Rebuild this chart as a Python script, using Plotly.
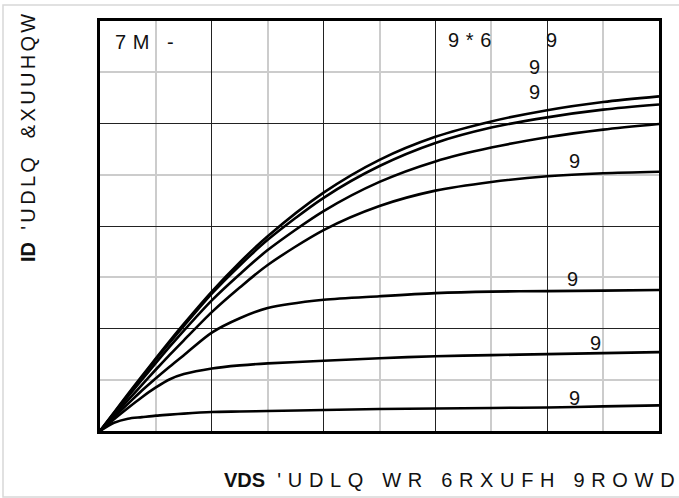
import plotly.graph_objects as go

# ---- data ----
vds = [0, 0.25, 0.5, 0.75, 1, 1.25, 1.5, 2, 2.5, 3, 4, 5, 6, 7, 8, 9, 10]
id_c1 = [0, 0.36, 0.72, 1.07, 1.42, 1.76, 2.09, 2.72, 3.29, 3.80, 4.65, 5.29, 5.74, 6.04, 6.26, 6.42, 6.53]
id_c2 = [0, 0.35, 0.70, 1.05, 1.40, 1.73, 2.05, 2.68, 3.23, 3.73, 4.55, 5.17, 5.62, 5.92, 6.12, 6.27, 6.37]
id_c3 = [0, 0.33, 0.67, 1.00, 1.33, 1.65, 1.96, 2.55, 3.06, 3.53, 4.29, 4.86, 5.26, 5.53, 5.73, 5.88, 5.99]
id_c4 = [0, 0.30, 0.60, 0.90, 1.20, 1.49, 1.77, 2.32, 2.80, 3.24, 3.92, 4.39, 4.69, 4.86, 4.97, 5.03, 5.06]
id_c5 = [0, 0.27, 0.53, 0.79, 1.03, 1.26, 1.48, 1.92, 2.20, 2.40, 2.56, 2.63, 2.69, 2.72, 2.73, 2.74, 2.75]
id_c6 = [0, 0.23, 0.45, 0.66, 0.85, 1.01, 1.11, 1.22, 1.28, 1.32, 1.37, 1.42, 1.46, 1.48, 1.50, 1.52, 1.54]
id_c7 = [0, 0.16, 0.24, 0.27, 0.30, 0.32, 0.34, 0.37, 0.38, 0.39, 0.41, 0.43, 0.44, 0.45, 0.46, 0.48, 0.50]
curves = [id_c1, id_c2, id_c3, id_c4, id_c5, id_c6, id_c7]

x_range = [0, 10]
y_range = [0, 8]

FONT = "Liberation Sans, Arial, sans-serif"
W, H = 679, 498
L, R, T, B = 100, 20, 21, 67
PW, PH = W - L - R, H - T - B


def px(x):
    return (x - L) / PW


def py(y):
    return (H - B - y) / PH


def spaced(text, sep, wsep):
    words = text.split(" ")
    return wsep.join(sep.join(list(w)) for w in words)


fig = go.Figure()
for c in curves:
    fig.add_trace(go.Scatter(x=vds, y=c, mode="lines",
                             line=dict(color="black", width=2.6, shape="spline", smoothing=0.8),
                             showlegend=False, hoverinfo="skip"))

axis_common = dict(showline=True, mirror=True, linecolor="black", linewidth=3,
                   showticklabels=False, ticks="", zeroline=False,
                   showgrid=True, gridcolor="#222222", gridwidth=1.3)
fig.update_xaxes(range=x_range, dtick=2, tick0=0,
                 minor=dict(dtick=1, tick0=0, showgrid=True, gridcolor="#cccccc", gridwidth=1.8),
                 **axis_common)
fig.update_yaxes(range=y_range, dtick=2, tick0=0,
                 minor=dict(dtick=1, tick0=0, showgrid=True, gridcolor="#cccccc", gridwidth=1.8),
                 **axis_common)

tf = dict(family=FONT, size=20, color="#111111")
ann = []
labels = [
    ("7\u2004M", 113, 42, "left"),
    ("-", 170, 42, "center"),
    ("9\u2004*\u20046", 446, 40, "left"),
    ("9", 551, 40, "center"),
    ("9", 534, 67, "center"),
    ("9", 534, 92, "center"),
    ("9", 574, 161, "center"),
    ("9", 572, 279, "center"),
    ("9", 595, 343, "center"),
    ("9", 574, 398, "center"),
]
for t, x, y, xa in labels:
    ann.append(dict(text=t, x=px(x), y=py(y), xref="paper", yref="paper",
                    xanchor=xa, yanchor="middle", showarrow=False, font=tf))

# axis titles
xt = "<b>VDS</b> \u2004" + spaced("'UDLQ WR 6RXUFH 9ROWD", "\u2004", "\u2004 \u2004")
ann.append(dict(text=xt, x=px(222), y=py(480), xref="paper", yref="paper",
                xanchor="left", yanchor="middle", showarrow=False, font=tf))
yt = "<b>ID</b> \u2004" + spaced("'UDLQ &XUUHQW", "\u2006", "\u2004 \u2004")
ann.append(dict(text=yt, x=px(28), y=py(264), xref="paper", yref="paper",
                xanchor="center", yanchor="bottom", textangle=-90, showarrow=False, font=tf))

fig.update_layout(
    width=W, height=H,
    margin=dict(l=L, r=R, t=T, b=B),
    paper_bgcolor="white", plot_bgcolor="white",
    annotations=ann,
    shapes=[dict(type="rect", xref="paper", yref="paper",
                 x0=px(3), x1=px(690), y0=py(497), y1=py(5),
                 line=dict(color="#d8d8d8", width=1.5), layer="below")],
)

fig.write_html("out.html", config={"displayModeBar": False},
               post_script="document.body.style.margin='0';document.body.style.overflow='hidden';")
